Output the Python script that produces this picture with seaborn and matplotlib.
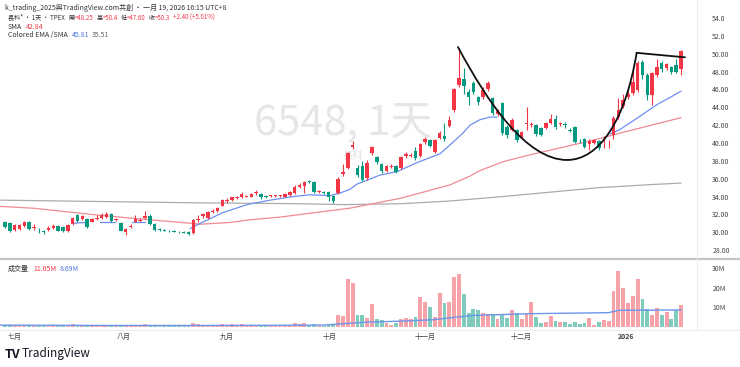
import matplotlib
matplotlib.use("Agg")
import matplotlib.pyplot as plt
from matplotlib.lines import Line2D
from matplotlib.path import Path
from matplotlib.patches import PathPatch
from matplotlib.transforms import IdentityTransform
import seaborn as sns
import pandas as pd
import numpy as np

# daily candles, 141 bars (Jul 2025 - Jan 19 2026)
opens = [31.2, 31.0, 30.3, 30.4, 30.7, 31.2, 30.5, 30.2, 30.1, 30.3,
         30.5, 30.7, 30.6, 30.1, 30.9, 31.9, 31.5, 31.5, 31.2, 31.5,
         31.6, 31.7, 32.1, 31.4, 31.0, 30.0, 30.6, 31.2, 31.3, 31.6,
         31.8, 30.9, 30.35, 30.25, 30.15, 30.1, 30.05, 30.0, 30.0, 29.9,
         31.4, 31.8, 31.6, 32.3, 32.4, 33.0, 33.5, 33.6, 33.85, 33.9,
         34.0, 34.0, 34.4, 34.3, 34.1, 34.05, 34.05, 34.05, 34.0, 34.2,
         34.4, 35.1, 35.2, 35.75, 35.6, 34.55, 34.45, 34.5, 34.1, 34.4,
         36.5, 37.2, 39.5, 37.2, 37.4, 36.1, 38.9, 38.4, 37.6, 36.9,
         37.3, 37.4, 37.2, 38.5, 38.6, 39.1, 38.6, 40.1, 40.3, 39.0,
         40.6, 40.8, 41.9, 43.7, 46.5, 47.2, 45.7, 46.7, 45.1, 45.2,
         46.0, 45.0, 43.3, 44.5, 41.8, 41.5, 41.5, 40.6, 42.1, 42.0,
         42.0, 41.7, 41.7, 42.2, 42.7, 42.15, 42.15, 41.45, 41.8, 40.35,
         40.5, 39.9, 40.0, 40.2, 39.95, 39.95, 40.9, 42.9, 44.1, 45.1,
         45.6, 45.9, 49.1, 47.6, 45.4, 47.6, 49.0, 48.4, 48.5, 48.7,
         48.25]
closes = [30.6, 30.1, 30.8, 30.8, 31.2, 30.4, 30.6, 30.1, 30.0, 30.5,
          30.7, 30.2, 30.1, 30.8, 31.6, 31.3, 31.8, 30.6, 31.5, 31.6,
          31.9, 32.1, 31.3, 31.5, 30.2, 30.4, 30.7, 31.5, 31.4, 31.8,
          30.9, 30.3, 30.25, 30.2, 30.1, 30.05, 30.0, 29.95, 29.8, 31.4,
          31.5, 32.0, 32.3, 32.4, 32.7, 33.6, 33.6, 33.9, 33.9, 34.3,
          34.1, 34.3, 34.5, 34.0, 33.9, 34.1, 34.1, 34.1, 34.3, 34.5,
          35.1, 35.3, 35.6, 35.65, 34.5, 34.6, 34.4, 33.9, 33.5, 36.0,
          36.8, 38.9, 39.8, 36.4, 35.9, 37.8, 39.5, 37.9, 36.9, 37.4,
          37.4, 36.7, 38.4, 38.8, 38.7, 38.3, 39.9, 40.4, 39.7, 40.3,
          41.1, 40.4, 42.6, 46.0, 47.3, 46.4, 45.2, 45.7, 44.6, 45.9,
          46.7, 43.4, 43.6, 41.1, 40.9, 42.6, 40.3, 41.2, 42.25, 42.15,
          41.0, 40.9, 42.2, 42.7, 41.8, 42.25, 42.05, 41.4, 40.1, 40.3,
          39.5, 40.2, 40.3, 39.4, 40.05, 40.05, 42.8, 43.7, 44.8, 45.5,
          46.8, 49.0, 47.6, 45.4, 47.8, 48.5, 48.3, 48.9, 47.9, 47.9,
          50.3]
highs = [31.3, 31.1, 30.9, 30.9, 31.3, 31.3, 30.9, 30.5, 30.3, 30.7,
         30.9, 30.8, 30.7, 30.9, 31.7, 32.0, 31.9, 31.6, 31.6, 31.9,
         32.2, 32.3, 32.2, 31.6, 31.1, 30.5, 30.9, 31.9, 31.6, 32.4,
         32.1, 31.0, 30.5, 30.4, 30.3, 30.3, 30.2, 30.1, 30.1, 31.5,
         31.9, 32.2, 32.4, 32.6, 32.8, 33.7, 33.8, 34.0, 34.1, 34.5,
         34.2, 34.4, 34.7, 34.4, 34.2, 34.2, 34.2, 34.2, 34.4, 34.6,
         35.3, 35.5, 35.8, 35.9, 35.7, 34.7, 34.6, 34.6, 34.2, 36.2,
         37.6, 39.0, 40.2, 37.5, 38.0, 38.1, 39.7, 38.6, 37.8, 37.5,
         37.6, 37.5, 38.5, 39.0, 38.9, 39.5, 40.0, 40.7, 40.5, 40.4,
         41.3, 42.2, 43.0, 46.2, 50.6, 48.4, 46.0, 47.0, 45.3, 46.3,
         47.0, 45.2, 43.8, 44.6, 42.0, 42.8, 41.6, 41.4, 44.0, 42.4,
         42.1, 41.8, 42.3, 43.2, 43.1, 42.4, 42.3, 41.7, 41.9, 40.5,
         40.6, 40.4, 40.4, 40.3, 40.8, 40.3, 43.0, 45.0, 45.5, 46.0,
         48.5, 49.2, 49.3, 47.8, 48.0, 49.4, 49.2, 49.0, 48.6, 49.4,
         50.4]
lows = [30.5, 30.0, 30.2, 30.3, 30.6, 30.3, 30.3, 29.9, 29.8, 30.2,
        30.4, 30.1, 30.0, 30.0, 30.8, 31.2, 31.4, 30.5, 31.1, 31.4,
        31.5, 31.6, 31.2, 31.3, 30.1, 29.7, 30.5, 31.1, 31.2, 31.5,
        30.8, 30.2, 30.2, 30.1, 30.0, 30.0, 29.9, 29.9, 29.7, 29.8,
        31.2, 31.6, 31.5, 32.2, 32.3, 32.9, 33.3, 33.5, 33.7, 33.8,
        33.9, 33.9, 34.2, 33.7, 33.8, 34.0, 33.9, 34.0, 33.9, 34.1,
        34.3, 35.0, 34.4, 35.5, 34.4, 34.4, 34.3, 33.5, 33.3, 34.3,
        36.3, 37.1, 39.3, 36.2, 35.8, 35.9, 38.7, 37.6, 36.6, 36.8,
        37.2, 36.6, 37.1, 38.3, 38.4, 38.1, 38.4, 39.9, 39.5, 38.9,
        40.4, 40.2, 41.8, 43.5, 46.3, 45.5, 44.3, 45.5, 44.3, 44.9,
        45.8, 43.1, 43.0, 40.9, 40.6, 41.3, 40.1, 40.4, 41.5, 41.8,
        40.8, 40.8, 41.6, 42.1, 41.6, 41.9, 41.7, 41.2, 40.0, 40.0,
        39.4, 39.2, 39.9, 39.2, 39.4, 39.4, 40.4, 42.7, 43.9, 44.9,
        45.4, 45.7, 47.2, 44.8, 44.3, 47.4, 48.0, 48.2, 47.7, 47.8,
        47.6]
# volume in millions of shares
volumes = [1.0, 1.2, 0.8, 0.7, 0.9, 1.0, 0.6, 0.5, 0.5, 0.6,
           0.7, 0.6, 0.6, 1.0, 1.3, 1.1, 0.8, 1.0, 0.8, 0.7,
           0.9, 1.0, 1.0, 0.6, 1.1, 1.0, 0.7, 1.2, 0.8, 1.3,
           1.1, 0.9, 0.6, 0.5, 0.5, 0.4, 0.4, 0.5, 0.7, 2.3,
           1.4, 1.0, 1.1, 0.8, 0.9, 1.5, 1.1, 1.3, 1.0, 1.3,
           1.0, 1.2, 1.0, 1.1, 0.9, 0.7, 0.7, 0.6, 0.9, 1.0,
           2.0, 1.6, 2.2, 0.9, 1.4, 0.7, 0.6, 1.5, 1.7, 6.3,
           5.4, 24.2, 22.5, 5.9, 5.9, 4.6, 11.7, 4.2, 3.7, 2.0,
           1.2, 2.0, 4.2, 4.7, 4.2, 5.1, 15.3, 12.7, 10.2, 5.1,
           17.5, 12.4, 12.7, 25.4, 27.1, 16.9, 7.1, 9.3, 8.5, 7.1,
           6.8, 6.8, 4.2, 5.9, 4.6, 8.5, 7.1, 4.2, 6.4, 12.7,
           5.1, 2.0, 2.5, 5.4, 3.1, 2.5, 2.5, 1.4, 2.5, 1.4,
           2.0, 4.6, 1.2, 2.5, 3.7, 2.9, 18.1, 28.3, 19.8, 12.4,
           15.6, 24.2, 14.4, 9.0, 6.3, 9.8, 6.3, 7.5, 4.2, 8.5,
           11.05]

# indicator lines: (bar index, value)
ema_segments = [
    ([14, 16.6], [31.0, 31.1]),
    ([19.7, 22.8], [31.2, 31.2]),
    ([26.3, 29.0], [31.2, 31.2]),
    ([38.3, 40.4, 45.1, 50.1, 54.9, 59.6, 63.1, 67.3, 69.4, 71.4, 72.9, 77.6,
      81.2, 85.3, 90.1, 92.8, 94.8, 96.3, 98.3, 100.4, 101.9],
     [30.4, 31.0, 32.2, 33.1, 33.6, 34.0, 34.2, 34.1, 34.4, 34.8, 35.4, 36.4,
      36.8, 37.8, 38.8, 40.1, 41.1, 42.0, 42.6, 42.9, 42.9]),
    ([125.3, 127.3, 130.4, 135.0, 137.7, 140.0], [41.0, 41.5, 42.6, 44.3, 45.1, 45.81]),
]
sma_x = [-1, 5.8, 19.7, 30, 38.7, 40.4, 46.6, 50.7, 56.9, 71.4, 81.8, 92.1,
         96.3, 98.3, 103.1, 108.1, 121.7, 127.3, 140]
sma_y = [32.9, 32.7, 31.9, 31.4, 31.0, 30.9, 31.1, 31.4, 31.7, 32.7, 33.8, 35.3,
         36.3, 36.9, 37.9, 38.6, 40.3, 41.1, 42.84]
sma_long_x = [-1, 40, 61, 70, 82, 92, 103, 113, 123, 134, 140]
sma_long_y = [33.6, 33.3, 33.2, 33.1, 33.2, 33.5, 34.0, 34.5, 35.0, 35.35, 35.51]
vol_ma_x = [-1, 20, 40, 60, 66, 70, 75, 82, 88.6, 93.6, 97, 109, 125, 127, 140]
vol_ma_y = [1.0, 0.8, 0.8, 0.9, 1.0, 1.7, 2.5, 3.0, 3.7, 5.1, 5.9, 6.8, 7.3, 8.5, 8.69]

# cup drawing: bezier anchors / control points, then the handle line
cup_px = [93.8, 100.0, 108.0, 116.4, 123.0, 128.5, 130.8, 140.8]
cup_py = [50.75, 44.5, 38.1, 38.1, 38.1, 42.5, 50.1, 49.6]

month_pos = [1.9, 24.6, 46.0, 67.3, 87.0, 106.8, 128.6]
month_labels = ["七月", "八月", "九月", "十月", "十一月", "十二月", "2026"]
price_ticks = [54, 52, 50, 48, 46, 44, 42, 40, 38, 36, 34, 32, 30, 28]
price_tick_labels = ["54.0", "52.0", "50.00", "48.00", "46.00", "44.00", "42.00",
                     "40.00", "38.00", "36.00", "34.00", "32.00", "30.00", "28.00"]
vol_ticks = [10, 20, 30]
vol_tick_labels = ["10M", "20M", "30M"]

UP, DOWN = "#F23645", "#089981"
UP_V, DOWN_V = "#F7A1A8", "#7FCBBE"
EMA_C, SMA_C, LONG_C, VMA_C = "#6E8EF0", "#F08A94", "#ABABAB", "#6F95E8"
FONTS = ["Noto Sans CJK TC", "DejaVu Sans"]

sns.set_theme(style="white")
plt.rcParams["font.family"] = FONTS

df = pd.DataFrame({"open": opens, "close": closes, "high": highs,
                   "low": lows, "vol": volumes})
df["idx"] = np.arange(len(df))
df["up"] = df["close"] >= df["open"]

W, H = 740, 367
fig = plt.figure(figsize=(W / 100, H / 100), dpi=100)
ax = fig.add_axes([0, (H - 258) / H, 697 / W, 258 / H])
axv = fig.add_axes([0, (H - 329) / H, 697 / W, 68 / H])

# candles
cols = np.where(df["up"], UP, DOWN)
ax.vlines(df["idx"], df["low"], df["high"], colors=cols, lw=0.8, zorder=3)
body_lo = df[["open", "close"]].min(axis=1)
body_h = (df["close"] - df["open"]).abs().clip(lower=0.08)
ax.bar(df["idx"], body_h, bottom=body_lo, width=0.72, color=cols, lw=0, zorder=4)

# moving averages
sns.lineplot(x=sma_long_x, y=sma_long_y, ax=ax, color=LONG_C, lw=0.9, zorder=2)
sns.lineplot(x=sma_x, y=sma_y, ax=ax, color=SMA_C, lw=0.9, zorder=2)
for sx, sy in ema_segments:
    sns.lineplot(x=sx, y=sy, ax=ax, color=EMA_C, lw=0.9, zorder=2)

# cup & handle drawing
codes = [Path.MOVETO, Path.CURVE4, Path.CURVE4, Path.CURVE4,
         Path.CURVE4, Path.CURVE4, Path.CURVE4, Path.LINETO]
cup = Path(list(zip(cup_px, cup_py)), codes)
ax.add_patch(PathPatch(cup, facecolor="none", edgecolor="#111111", lw=1.3,
                       zorder=5, capstyle="round"))

# watermark
ax.text(70, 42.3, "6548, 1天", fontsize=30, color="#E6E6E6", ha="center", va="center",
        zorder=1, family=FONTS)
ax.text(72, 38.5, "長科", fontsize=7.5, color="#E0E0E0", ha="center", va="center",
        zorder=1, family=FONTS)

ax.set_xlim(-1.04, 143.3)
ax.set_ylim(27.12, 56.02)
ax.set_yticks(price_ticks)
ax.set_yticklabels(price_tick_labels)
ax.set_xticks([])

# volume
vcols = np.where(df["up"], UP_V, DOWN_V)
axv.bar(df["idx"], df["vol"], width=0.8, color=vcols, lw=0, zorder=2)
sns.lineplot(x=vol_ma_x, y=vol_ma_y, ax=axv, color=VMA_C, lw=1.0, zorder=3)
axv.set_xlim(-1.04, 143.3)
axv.set_ylim(-1.0, 33.6)
axv.set_yticks(vol_ticks)
axv.set_yticklabels(vol_tick_labels)
axv.set_xticks(month_pos)
axv.set_xticklabels(month_labels)
for lbl in axv.get_xticklabels():
    if lbl.get_text() == "2026":
        lbl.set_fontweight("bold")

for a in (ax, axv):
    a.set_facecolor("none")
    for s in a.spines.values():
        s.set_visible(False)
    a.tick_params(axis="y", left=False, right=True, labelleft=False, labelright=True,
                  length=0, pad=11, labelsize=5, labelcolor="#444444")
    a.tick_params(axis="x", length=0, pad=3, labelsize=5, labelcolor="#444444")
    a.grid(False)
    a.set_xlabel("")
    a.set_ylabel("")

# pane separators
fig.add_artist(Line2D([0, 1], [(H - 259) / H] * 2, transform=fig.transFigure,
                      color="#C4C4C4", lw=1.6))
fig.add_artist(Line2D([0, 1], [(H - 330) / H] * 2, transform=fig.transFigure,
                      color="#EDEDED", lw=0.8))
fig.add_artist(Line2D([697 / W] * 2, [(H - 330) / H, 1], transform=fig.transFigure,
                      color="#F0F0F0", lw=0.8))

# header texts placed segment by segment: (text, colour, gap after in px)
renderer = fig.canvas.get_renderer()


def put_line(x, y_top, parts, size=5, weight="normal"):
    for s, c, gap in parts:
        t = fig.text(x, H - y_top, s, color=c, fontsize=size, va="center", ha="left",
                     transform=IdentityTransform(), family=FONTS, fontweight=weight)
        x = t.get_window_extent(renderer).x1 + gap


DARK = "#333333"
put_line(5, 8, [("k_trading_2025與TradingView.com共創 · 一月 19, 2026 16:15 UTC+8", DARK, 0)])
put_line(8, 18, [("長科* · 1天 · TPEX", DARK, 4), ("開", DARK, 0), ("=48.25", UP, 3),
                 ("高", DARK, 0), ("=50.4", UP, 3), ("低", DARK, 0), ("=47.60", UP, 3),
                 ("收", DARK, 0), ("=50.3", UP, 3), ("+2.40 (+5.01%)", UP, 0)], size=4.4)
put_line(8, 27, [("SMA", DARK, 4), ("42.84", UP, 0)])
put_line(8, 35, [("Colored EMA /SMA", DARK, 4), ("45.81", "#4E6FE0", 3), ("35.51", "#666666", 0)])
put_line(8, 269, [("成交量", DARK, 4), ("11.05M", UP, 3), ("8.69M", "#4E6FE0", 0)])
put_line(5, 354, [("TV", "#131722", 0)], size=9, weight="heavy")
put_line(22, 354, [("TradingView", "#131722", 0)], size=8.5, weight="medium")

fig.savefig("out.png", dpi=100)
